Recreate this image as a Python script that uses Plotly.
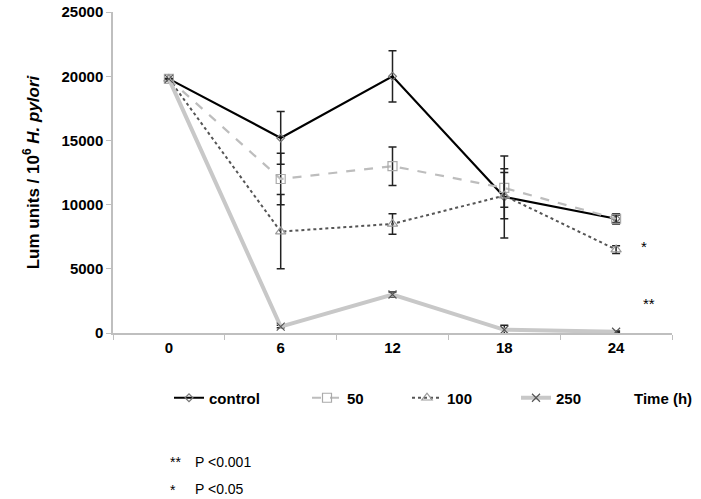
import plotly.graph_objects as go

times = ["0", "6", "12", "18", "24"]
control = [19800, 15200, 20000, 10600, 8900]
control_err = [0, 2050, 2000, 3200, 300]
c50 = [19800, 12000, 13000, 11300, 8900]
c50_err = [0, 2000, 1500, 1500, 400]
c100 = [19800, 7900, 8500, 10700, 6500]
c100_err = [0, 2900, 800, 1800, 300]
c250 = [19800, 500, 3000, 250, 100]
c250_err = [0, 100, 200, 350, 50]

FONT = "Liberation Sans, Arial, sans-serif"
fig = go.Figure()

# plot area in picture pixels
PL, PR, PT, PB = 113, 672, 12, 333
def px(x):
    return (x - PL) / (PR - PL)
def py(y):
    return (PB - y) / (PB - PT)

def add(name, y, err, color, width, dash, symbol, mcolor, msize, legend):
    fig.add_trace(go.Scatter(
        x=times, y=y, name=name, mode="lines+markers", legend=legend,
        line=dict(color=color, width=width, dash=dash),
        marker=dict(symbol=symbol, size=msize, color=mcolor,
                    line=dict(color=mcolor, width=1.2)),
        error_y=dict(type="data", array=err, visible=True, color="#222",
                     thickness=1.5, width=4),
    ))

add("control", control, control_err, "#000000", 2.2, "solid", "diamond-open", "#777", 6, "legend")
add("50", c50, c50_err, "#bdbdbd", 2.2, "dash", "square-open", "#aaa", 9, "legend2")
add("100", c100, c100_err, "#555555", 2, "dot", "triangle-up-open", "#999", 9, "legend3")
add("250", c250, c250_err, "#c8c8c8", 4, "solid", "x-thin-open", "#555", 8, "legend4")

def leg(text_x):
    return dict(orientation="h", x=px(text_x - 41), y=py(398), xanchor="left", yanchor="middle",
                font=dict(family=FONT, size=15, color="#000", weight="bold"),
                bgcolor="rgba(0,0,0,0)")

W, H = 701, 499
fig.update_layout(
    width=W, height=H,
    margin=dict(l=PL, r=W - PR, t=PT, b=H - PB),
    plot_bgcolor="white", paper_bgcolor="white",
    font=dict(family=FONT, size=14, color="#000"),
    showlegend=True,
    legend=leg(210), legend2=leg(348), legend3=leg(448), legend4=leg(557),
    xaxis=dict(type="category", range=[-0.5, 4.5], showgrid=False, automargin=False,
               showline=True, linecolor="#bfbfbf", linewidth=1.5,
               ticks="outside", tickson="boundaries", ticklen=5, tickcolor="#bfbfbf",
               tickfont=dict(family=FONT, size=15, weight="bold")),
    yaxis=dict(range=[0, 25010], tickvals=[0, 5000, 10000, 15000, 20000, 25000],
               ticktext=["0", "5000", "10000", "15000", "20000", "25000"],
               ticklabeloverflow="allow", automargin=False,
               showgrid=False, zeroline=False,
               showline=True, linecolor="#bfbfbf", linewidth=1.5,
               ticks="outside", ticklen=5, tickcolor="#bfbfbf",
               tickfont=dict(family=FONT, size=15, weight="bold"),
               title=dict(text="Lum units / 10<sup>6</sup> <i>H. pylori</i>",
                          font=dict(family=FONT, size=17, weight="bold"), standoff=18)),
)

ann = [
    dict(text="*", xp=644, yp=246, size=15, anchor="center"),
    dict(text="**", xp=649, yp=303, size=15, anchor="center"),
    dict(text="Time (h)", xp=663, yp=398, size=15, bold=True, anchor="center"),
    dict(text="**", xp=168, yp=462, size=14, anchor="left"),
    dict(text="P <0.001", xp=193, yp=462, size=14, anchor="left"),
    dict(text="*", xp=168, yp=490, size=14, anchor="left"),
    dict(text="P <0.05", xp=193, yp=489, size=14, anchor="left"),
]
for a in ann:
    fig.add_annotation(
        x=px(a["xp"]), y=py(a["yp"]), xref="paper", yref="paper",
        text=a["text"], showarrow=False, xanchor=a["anchor"], yanchor="middle",
        font=dict(family=FONT, size=a["size"], color="#000",
                  weight="bold" if a.get("bold") else "normal"))

fig.write_html("out.html", config={"displayModeBar": False},
               post_script="document.body.style.margin='0';")
